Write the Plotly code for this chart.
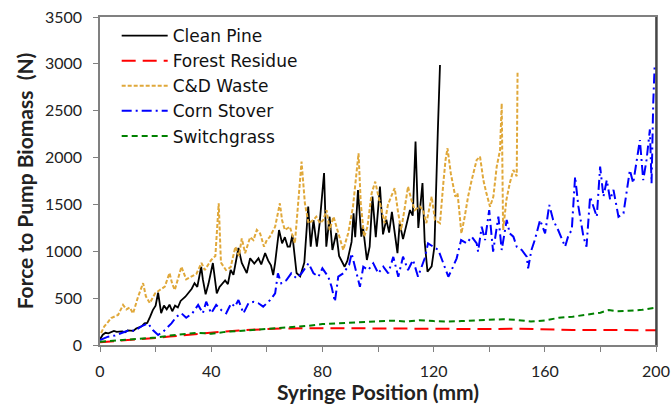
import plotly.graph_objects as go

# ---------------- data ----------------
pine_x = [0, 1, 2, 3, 5, 6, 8, 9, 10, 12, 13, 15, 16, 17, 18, 19, 20, 20.9, 22, 23, 24, 25, 26, 27, 28, 29,
          30.7, 32, 33, 34, 35, 36.4, 37, 38, 39, 40.6, 42, 43, 45, 46, 47, 48, 49.8, 51, 52.8, 54, 55.5,
          57, 58, 59.4, 60.5, 61.5, 62.3, 63, 64.4, 65.5, 66.5, 67.5, 68.3, 69.2, 70.7, 72, 73.5, 74.9,
          75.8, 76.8, 78, 79, 80.6, 81.4, 82.6, 83.6, 85, 86, 88, 89, 90.5, 91.2, 91.8, 92.8, 94, 94.6,
          96, 97, 98, 99.2, 100.7, 101.8, 103, 104, 105, 107, 107.8, 109, 110.3, 111.5, 112.5, 113.5,
          114.5, 115.2, 116, 116.8, 117.8, 119.3, 120.3, 121.5, 122.3]
pine_y = [60, 110, 130, 125, 150, 140, 145, 135, 155, 150, 175, 200, 230, 235, 300, 373, 420, 558, 340, 420,
          380, 430, 360, 420, 400, 470, 515, 560, 600, 660, 620, 835, 700, 540, 650, 875, 550, 620, 690,
          650, 800, 750, 1035, 875, 768, 925, 870, 925, 860, 980, 900, 850, 747, 880, 1227, 1085, 1150,
          1050, 1049, 1173, 768, 732, 880, 1476, 1049, 1334, 1049, 1298, 1835, 1049, 1369, 1014, 1195,
          950, 835, 900, 1100, 1405, 1150, 1654, 1156, 1260, 907, 1050, 1583, 1150, 1690, 1180, 1338,
          1200, 1420, 980, 1300, 1130, 1300, 1440, 1380, 2170, 1250, 1440, 1728, 1100, 782, 840, 1050,
          2262, 2988]

forest_x = [0, 5, 10, 15, 20, 25, 30, 35, 40, 45, 50, 55, 60, 65, 70, 75, 80, 90, 100, 110, 120, 130, 140,
            150, 160, 170, 180, 190, 200]
forest_y = [30, 40, 50, 60, 75, 90, 105, 120, 130, 145, 155, 165, 170, 175, 180, 180, 180, 178, 180, 178,
            175, 175, 170, 175, 165, 160, 160, 158, 158]

cd_x = [0.4, 1.5, 3, 4, 6.5, 8.3, 9.5, 10.7, 11.9, 13.7, 15.5, 16.5, 17.9, 19.8, 21.5, 23.3, 25, 26, 26.9,
        29.3, 31, 32.9, 34.7, 36.5, 37.7, 40, 41.5, 42.7, 43.5, 45.3, 47, 48.7, 50, 51, 52.2, 54, 55.2,
        56.4, 57.6, 59, 60, 61, 63, 64.7, 65.5, 66.5, 68.3, 70.1, 71.3, 72.5, 73.7, 75, 76.8, 77.8, 79.2,
        80.3, 81.5, 82.6, 84, 85.6, 87.5, 89.3, 91, 93, 93.8, 95, 96.2, 97.7, 99, 100.2, 101.3, 102.4,
        103.6, 106, 107.1, 108.3, 109.5, 110.8, 112, 113.2, 115, 116.2, 117.4, 119.3, 120.5, 122.3,
        123.5, 124.3, 125, 126.2, 127.8, 128.6, 129.2, 130, 131.2, 132.4, 133.7, 135.5, 136.7, 137.9,
        139, 140.3, 141.5, 142.7, 143.9, 144.5, 145, 146.2, 147.4, 148.7, 149.9, 150.2]
cd_y = [128, 196, 250, 288, 320, 427, 380, 400, 337, 516, 660, 520, 448, 550, 587, 622, 768, 650, 587, 835,
        700, 729, 760, 875, 800, 907, 950, 1512, 880, 800, 830, 1049, 950, 1138, 980, 1150, 1120, 1227,
        1190, 1049, 1120, 1150, 1262, 1512, 1330, 1227, 1262, 1085, 1512, 1956, 1512, 1298, 1334, 1369,
        1298, 1334, 1440, 1227, 1369, 1195, 1014, 1195, 1476, 2045, 1512, 1156, 1260, 1618, 1743, 1580,
        1440, 1300, 1500, 1675, 1440, 1227, 1440, 1690, 1550, 1440, 1480, 1440, 1300, 1583, 1334, 1300,
        1727, 1975, 2099, 1830, 1583, 1620, 1440, 1191, 1370, 1583, 1760, 1975, 2010, 1760, 1618, 1476,
        1583, 1903, 2080, 2579, 1227, 1550, 1727, 1867, 1800, 2916]

corn_x = [0, 2.9, 5.3, 7.6, 10.7, 12.5, 14.7, 17.3, 19, 20.9, 23, 25.7, 27.5, 29.3, 31, 33.2, 35.3, 37,
          38.2, 40, 41.8, 43.6, 45.4, 47.2, 48.5, 49.8, 51.6, 53.4, 55.2, 57, 58.7, 61.2, 63, 64, 65.2, 67,
          68.8, 70.7, 72.5, 75, 76.8, 78.6, 80, 82.1, 83.3, 84.5, 85.7, 87.5, 89.6, 90.5, 91.7, 93.5, 94.7,
          96.5, 98.3, 100.1, 101.9, 103.7, 105.5, 107.3, 109, 110.8, 112.6, 114.4, 116.8, 118, 119.8,
          121.7, 123.5, 125.3, 126.5, 128.3, 129.9, 131.9, 133.7, 135.5, 136, 137.3, 138.5, 140, 141.4,
          143.3, 144.5, 146.3, 147.4, 148.7, 149.9, 151.7, 153.5, 154, 155.2, 156.4, 158.3, 160.1, 161.6,
          163, 164.8, 166.7, 167.3, 168.5, 169.7, 170.9, 172.1, 173.9, 175, 176.3, 177.5, 178.7, 179.9,
          181.1, 182.3, 183.5, 184.7, 186.5, 188.3, 189.4, 190.6, 191.8, 193, 194.2, 195.4, 196.6, 197.8,
          198.4, 199, 199.5]
corn_y = [53, 89, 100, 125, 160, 150, 196, 231, 160, 107, 150, 231, 302, 338, 290, 338, 427, 338, 462, 338,
          427, 373, 338, 445, 409, 480, 338, 445, 460, 445, 409, 480, 550, 765, 658, 690, 765, 711, 765, 872,
          765, 729, 818, 729, 622, 462, 729, 765, 854, 978, 835, 622, 835, 800, 872, 765, 835, 765, 940, 729,
          942, 800, 907, 729, 925, 1085, 1050, 1014, 872, 729, 800, 925, 1120, 1085, 1156, 1085, 996, 1262,
          1120, 1440, 996, 1369, 1014, 1334, 1190, 1156, 1049, 1014, 942, 818, 1014, 1120, 1334, 1190, 1494,
          1334, 1227, 1085, 1049, 1170, 1227, 1796, 1476, 1156, 1049, 1583, 1476, 1369, 1903, 1583, 1760,
          1550, 1655, 1369, 1405, 1620, 1867, 1727, 1938, 2187, 1760, 1975, 2300, 1725, 2579, 2970]

switch_x = [0, 5, 10, 15, 20, 25, 30, 35, 40, 45, 50, 55, 60, 65, 70, 75, 80, 85, 90, 95, 100, 105, 110,
            115, 120, 125, 130, 135, 140, 145, 150, 155, 160, 165, 170, 175, 180, 183, 186, 190, 195, 200]
switch_y = [35, 45, 55, 65, 80, 100, 115, 130, 120, 140, 150, 160, 170, 185, 196, 205, 224, 230, 240, 245,
            255, 260, 250, 265, 255, 250, 255, 260, 265, 275, 267, 250, 262, 290, 302, 320, 345, 373, 360,
            365, 375, 398]

x_ticks = [0, 40, 80, 120, 160, 200]
y_ticks = [0, 500, 1000, 1500, 2000, 2500, 3000, 3500]

FONT = "Lato"

fig = go.Figure()
fig.add_trace(go.Scatter(x=pine_x, y=pine_y, mode="lines", name="Clean Pine",
                         line=dict(color="black", width=1.8)))
fig.add_trace(go.Scatter(x=forest_x, y=forest_y, mode="lines", name="Forest Residue",
                         line=dict(color="#FF0000", width=2, dash="14px,7px")))
fig.add_trace(go.Scatter(x=cd_x, y=cd_y, mode="lines", name="C&D Waste",
                         line=dict(color="#E0A83A", width=2, dash="4px,2px")))
fig.add_trace(go.Scatter(x=corn_x, y=corn_y, mode="lines", name="Corn Stover",
                         line=dict(color="#0000FF", width=2, dash="10px,4px,2px,4px")))
fig.add_trace(go.Scatter(x=switch_x, y=switch_y, mode="lines", name="Switchgrass",
                         line=dict(color="#008000", width=2, dash="6px,4px")))

fig.update_layout(
    width=671, height=404,
    margin=dict(l=100, r=15, t=17, b=59),
    paper_bgcolor="white", plot_bgcolor="white",
    font=dict(family=FONT, color="#222222", size=16),
    showlegend=True,
    legend=dict(x=0.03, y=0.997, xanchor="left", yanchor="top", bgcolor="rgba(0,0,0,0)",
                font=dict(family="DejaVu Sans", size=17, color="#111111"), tracegroupgap=0, itemwidth=46),
    xaxis=dict(range=[0, 200], tickvals=x_ticks, ticks="outside", ticklen=5, tickcolor="#808080",
               showline=True, linecolor="#808080", linewidth=1.5, mirror=True, showgrid=False,
               zeroline=False, tickfont=dict(size=16), automargin=False, ticklabelstandoff=6,
               minor=dict(dtick=20, ticks="outside", ticklen=5, tickcolor="#808080"),
               title=dict(text="<b>Syringe Position (mm)</b>", font=dict(size=21), standoff=2)),
    yaxis=dict(range=[0, 3500], tickvals=y_ticks, ticks="outside", ticklen=5, tickcolor="#808080",
               showline=True, linecolor="#808080", linewidth=1.5, mirror=True, showgrid=False,
               zeroline=False, tickfont=dict(size=16), automargin=False, ticklabelstandoff=8,
               title=dict(text="<b>Force to Pump Biomass \u00a0(N)</b>", font=dict(size=21), standoff=6)),
)
fig.add_shape(type="line", xref="paper", yref="paper", x0=1, x1=1, y0=0, y1=1,
              line=dict(color="#333333", width=1.5))

fig.write_html("out.html")
